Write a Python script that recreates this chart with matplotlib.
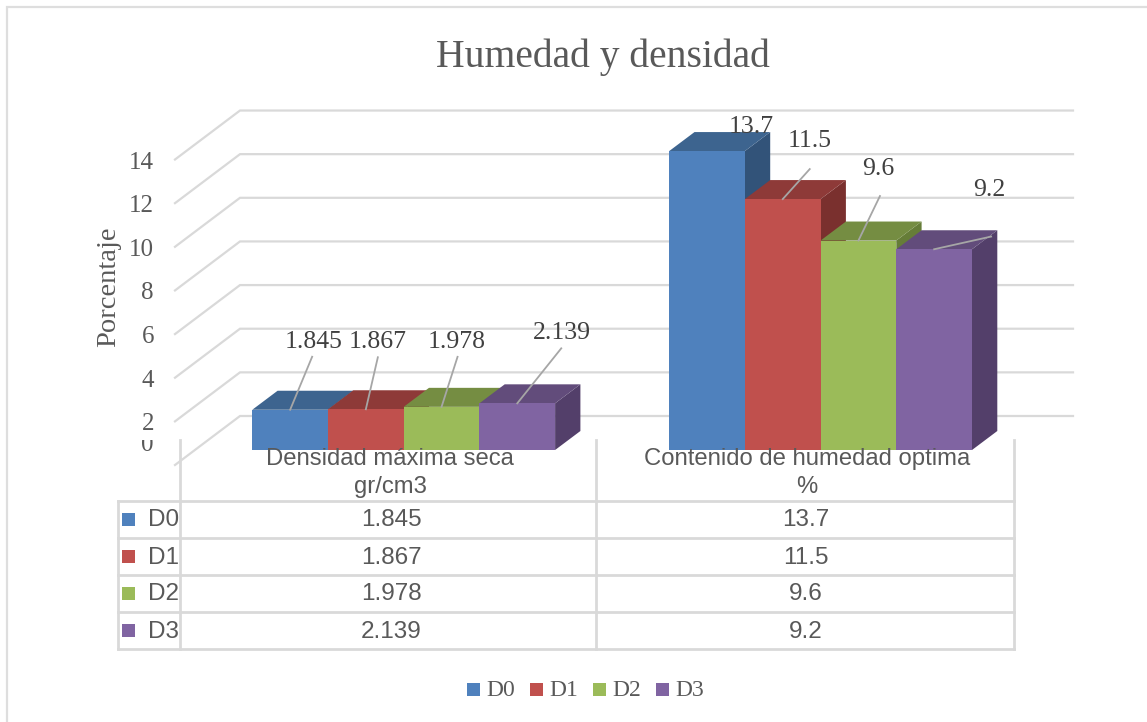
""" LIBRARIES """
import matplotlib
matplotlib.use('Agg')
import matplotlib.pyplot as plt
from matplotlib.patches import Polygon, Rectangle

""" DATA """
titulo     = 'Humedad y densidad'
eje_y      = 'Porcentaje'
categorias = ['Densidad máxima seca\ngr/cm3', 'Contenido de humedad optima\n%']
series     = ['D0', 'D1', 'D2', 'D3']
d0 = [1.845, 13.7]
d1 = [1.867, 11.5]
d2 = [1.978, 9.6]
d3 = [2.139, 9.2]
ticks_y = [0, 2, 4, 6, 8, 10, 12, 14]

""" STYLE """
frente  = ['#4F81BD', '#C0504D', '#9BBB59', '#8064A2']
techo   = ['#3D648F', '#8E3A38', '#758D42', '#624C7B']
lado    = ['#325379', '#7A302E', '#667D38', '#533F6A']
gris    = '#D9D9D9'
texto   = '#595959'
serif   = 'Liberation Serif'
sans    = 'Liberation Sans'

# layout in picture pixels
PX_UNIDAD = 21.82   # pixels per y unit
Y_BASE    = 450     # bar base
Y_FRONT0  = 465     # zero on the front edge of the floor
Y_BACK0   = 416     # zero on the back wall
X_FRONT   = 175
X_BACK    = 240
X_FIN     = 1073
X_GRUPO   = [252.3, 669.2]
ANCHO     = 75.7
DX, DY    = 25.3, 19

# data label centre and leader end, relative to the top centre of the front face
etiquetas = [[(23, -68), (12, -67), (15, -65), (45, -70)],
             [(44, -24), (27, -58), (20, -72), (55, -59)]]
guias     = [[(22, -53), (12, -52), (16, -50), (44, -55)],
             [None, (27, -30), (21.5, -44.5), (57, -12.7)]]

fig = plt.figure(figsize=(11.47, 7.22), dpi=100)
ax = fig.add_axes([0, 0, 1, 1])
ax.set_xlim(0, 1147)
ax.set_ylim(722, 0)
ax.axis('off')


def alto(v):
    return v*PX_UNIDAD


# Chart frame, open on the right and the bottom
ax.plot([6.5, 6.5, 1147], [722, 6.5, 6.5], color='#DEDEDE', lw=1.6, solid_joinstyle='miter')

ax.text(603, 57, titulo, family=serif, fontsize=28.5, color=texto, ha='center', va='center')
ax.text(109, 287, eje_y, family=serif, fontsize=20.5, color=texto, rotation=90, ha='center', va='center')

# Back wall and floor lines
for t in ticks_y:
    ax.plot([X_FRONT, X_BACK, X_FIN],
            [Y_FRONT0 - alto(t), Y_BACK0 - alto(t), Y_BACK0 - alto(t)],
            color=gris, lw=1.6, solid_joinstyle='miter', zorder=1)
    lab = ax.text(154, Y_FRONT0 - alto(t) + 3, str(t), family=serif, fontsize=18, color=texto,
                  ha='right', va='center', zorder=2)
    if t == 0:
        # the table covers the top of the 0
        lab.set_position((154, 445))
        lab.set_clip_path(Rectangle((0, 440), 1147, 20, transform=ax.transData))
        lab.set_clip_on(True)

# Bars
valores = [d0, d1, d2, d3]
for g in range(len(categorias)):
    for s in range(len(series)):
        v  = valores[s][g]
        x0 = X_GRUPO[g] + s*ANCHO
        x1 = x0 + ANCHO
        y1 = Y_BASE - alto(v)
        ax.add_patch(Polygon([(x1, Y_BASE), (x1, y1), (x1 + DX, y1 - DY), (x1 + DX, Y_BASE - DY)],
                             fc=lado[s], ec='none', zorder=3))
        ax.add_patch(Polygon([(x0, y1), (x1, y1), (x1 + DX, y1 - DY), (x0 + DX, y1 - DY)],
                             fc=techo[s], ec='none', zorder=3))
        ax.add_patch(Rectangle((x0, y1), ANCHO, alto(v), fc=frente[s], ec='none', zorder=3))

# Data labels and their leader lines, on top of all the bars
for g in range(len(categorias)):
    for s in range(len(series)):
        v  = valores[s][g]
        xc = X_GRUPO[g] + (s + 0.5)*ANCHO
        yc = Y_BASE - alto(v)
        if guias[g][s] is not None:
            ax.plot([xc, xc + guias[g][s][0]], [yc, yc + guias[g][s][1]],
                    color='#A6A6A6', lw=1.3, zorder=4)
        ax.text(xc + etiquetas[g][s][0], yc + etiquetas[g][s][1], str(v), family=serif,
                fontsize=18.5, color='#404040', ha='center', va='center', zorder=5)

# Data table
filas_y = [501, 538, 575, 612, 649]
cols_x  = [118, 180, 596, 1013.5]
for y in filas_y:
    ax.plot([cols_x[0], cols_x[-1]], [y, y], color=gris, lw=2, zorder=2, solid_capstyle='projecting')
ax.plot([cols_x[0], cols_x[0]], [filas_y[0], filas_y[-1]], color=gris, lw=2, zorder=2)
for x in cols_x[1:]:
    ax.plot([x, x], [440, filas_y[-1]], color=gris, lw=2, zorder=2)

centros = [390, 807]
for g, cat in enumerate(categorias):
    l1, l2 = cat.split('\n')
    ax.text(centros[g], 459, l1, family=sans, fontsize=17.2, color=texto, ha='center', va='center', zorder=6)
    ax.text(centros[g], 487, l2, family=sans, fontsize=17.2, color=texto, ha='center', va='center', zorder=6)

for s, nom in enumerate(series):
    yc = (filas_y[s] + filas_y[s + 1])/2
    ax.add_patch(Rectangle((122, yc - 6.5), 13, 13, fc=frente[s], ec='none', zorder=3))
    ax.text(147.5, yc + 1, nom, family=sans, fontsize=17.5, color=texto, ha='left', va='center')
    for g in range(len(categorias)):
        ax.text(centros[g] + 1 - g*2, yc + 1, str(valores[s][g]), family=sans, fontsize=17.5, color=texto,
                ha='center', va='center')

# Legend
leg_x = [467, 530, 593, 656]
for s, nom in enumerate(series):
    ax.add_patch(Rectangle((leg_x[s], 682.5), 13, 13, fc=frente[s], ec='none'))
    ax.text(leg_x[s] + 19, 690, nom, family=serif, fontsize=17, color=texto, ha='left', va='center')

fig.savefig('out.png', dpi=100, facecolor='white')
